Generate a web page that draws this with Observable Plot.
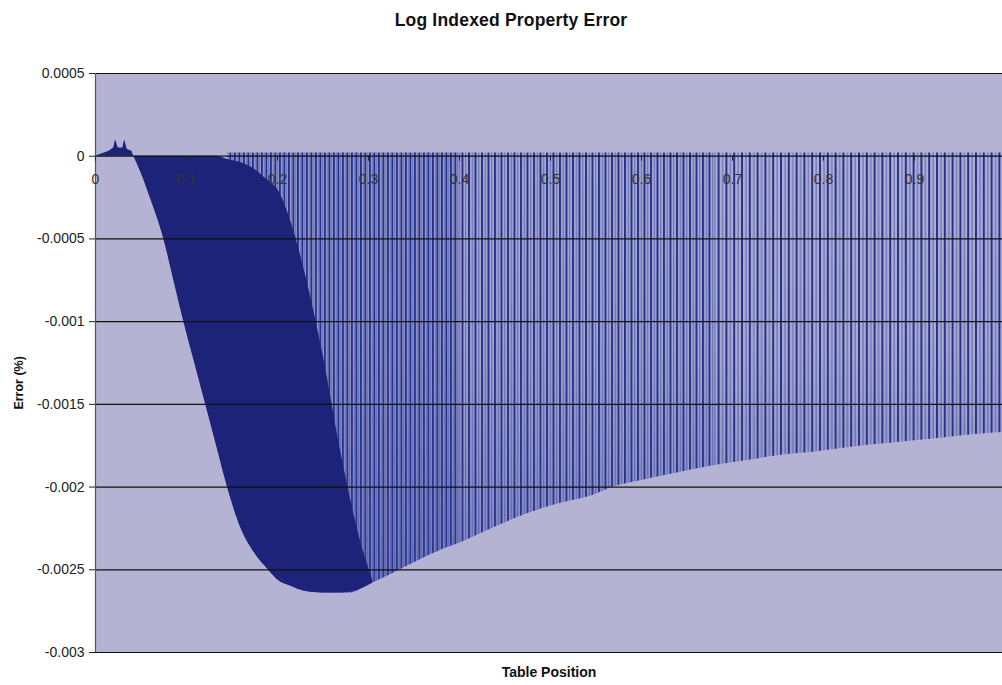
<!DOCTYPE html>
<html><head><meta charset="utf-8">
<script src="https://cdn.jsdelivr.net/npm/d3@7"></script>
<script src="https://cdn.jsdelivr.net/npm/@observablehq/plot@0.6"></script>
<style>
body{margin:0;background:#fff;font-family:"Liberation Sans",Arial,sans-serif;}
#title{height:40px;line-height:40px;padding-left:20px;width:982px;text-align:center;font-weight:bold;font-size:17.5px;letter-spacing:0.2px;color:#111;}
</style></head><body>
<div id="title">Log Indexed Property Error</div>
<div id="chart"></div>
<script>
// ---- data ----
const xTicks = [0, 0.1, 0.2, 0.3, 0.4, 0.5, 0.6, 0.7, 0.8, 0.9];
const xTickLabels = ["0", "0.1", "0.2", "0.3", "0.4", "0.5", "0.6", "0.7", "0.8", "0.9"];
const yTicks = [0.0005, 0, -0.0005, -0.001, -0.0015, -0.002, -0.0025, -0.003];
const yTickLabels = ["0.0005", "0", "-0.0005", "-0.001", "-0.0015", "-0.002", "-0.0025", "-0.003"];

// lower envelope of the oscillating error trace
const envX = [0.042,0.05,0.06,0.075,0.086,0.097,0.109,0.121,0.133,0.145,0.16,0.175,0.19,0.2,0.215,0.23,0.25,0.28,0.3,0.32,0.338,0.36,0.38,0.4,0.44,0.475,0.51,0.547,0.569,0.6,0.643,0.68,0.716,0.75,0.789,0.83,0.863,0.9,0.936,0.97,0.9967];
const envLow = [0,-0.0001,-0.00025,-0.0005,-0.00075,-0.001,-0.00125,-0.0015,-0.00175,-0.002,-0.00225,-0.0024,-0.0025,-0.00256,-0.0026,-0.00263,-0.00264,-0.00264,-0.00259,-0.00254,-0.00249,-0.00243,-0.00238,-0.00234,-0.00224,-0.00216,-0.0021,-0.00205,-0.002,-0.00196,-0.00191,-0.00187,-0.00184,-0.00181,-0.00179,-0.00176,-0.00174,-0.00172,-0.0017,-0.00168,-0.00167];
const envTop = 0.00002;

// the solid (densely overplotted) part of the trace
const denseX = [0.042,0.05,0.06,0.075,0.086,0.097,0.109,0.121,0.133,0.145,0.16,0.175,0.19,0.2,0.215,0.23,0.25,0.27,0.29,0.305];
const denseTop = [0,0,0,0,0,0,0,0,0,-0.00002,-0.00004,-0.00008,-0.00015,-0.0002,-0.0004,-0.0007,-0.0012,-0.0018,-0.0023,-0.00257];
const denseLow = [0,-0.0001,-0.00025,-0.0005,-0.00075,-0.001,-0.00125,-0.0015,-0.00175,-0.002,-0.00225,-0.0024,-0.0025,-0.00256,-0.0026,-0.00263,-0.00264,-0.00264,-0.00262,-0.00258];

// small positive wiggle at the start of the table
const startX = [0,0.005,0.01,0.015,0.02,0.022,0.025,0.03,0.032,0.035,0.04,0.042];
const startY = [0,0.00001,0.00002,0.00003,0.00005,0.0001,0.00005,0.00005,0.0001,0.00004,0.00003,0];

// ---- build tables ----
const env = envX.map((x, i) => ({x, low: envLow[i]}));
const dense = denseX.map((x, i) => ({x, top: denseTop[i], low: denseLow[i]}));
const start = startX.map((x, i) => ({x, y: startY[i]}));

const BG = "#b4b3d3", NAVY = "#1c2379";

const inRange = (a, b) => env.map(d => d.x >= a && d.x <= b);

const plot = Plot.plot({
  width: 1002, height: 645,
  marginTop: 33, marginBottom: 33, marginLeft: 95, marginRight: 0,
  x: {domain: [0, 0.9967], axis: null},
  y: {domain: [-0.003, 0.0005], axis: null},
  style: {fontFamily: "'Liberation Sans', Arial, sans-serif", fontSize: "14px", color: "#222", background: "white"},
  marks: [
    Plot.frame({fill: BG, stroke: null}),
    Plot.areaY(env, {x: "x", y1: envTop, y2: "low", filter: inRange(0.145, 0.4), fill: "url(#stripesA)", curve: "monotone-x"}),
    Plot.areaY(env, {x: "x", y1: envTop, y2: "low", filter: inRange(0.4, 0.68), fill: "url(#stripesB)", curve: "monotone-x"}),
    Plot.areaY(env, {x: "x", y1: envTop, y2: "low", filter: inRange(0.68, 1), fill: "url(#stripesC)", curve: "monotone-x"}),
    Plot.areaY(env, {x: "x", y1: envTop, y2: "low", filter: inRange(0.145, 1), fill: "url(#fade)", curve: "monotone-x"}),
    Plot.areaY(dense, {x: "x", y1: "top", y2: "low", fill: NAVY, curve: "monotone-x"}),
    Plot.areaY(start, {x: "x", y1: 0, y2: "y", fill: NAVY}),
    Plot.ruleY(yTicks, {stroke: "#111", strokeWidth: 1.2}),
    Plot.ruleX([0], {stroke: "#555", strokeWidth: 1.2}),
    Plot.ruleX(xTicks, {x: d => d, y1: 0, y2: -0.00003, stroke: "#222"}),
    Plot.text(xTicks, {x: d => d, y: 0, dy: 23, text: (d, i) => xTickLabels[i], fill: "#333", fontSize: 14}),
    Plot.axisY({ticks: yTicks, tickFormat: d => yTickLabels[yTicks.indexOf(d)], tickSize: 6, tickPadding: 5, label: null, fontSize: 14, color: "#222"}),
    Plot.text(["Error (%)"], {frameAnchor: "left", y: -0.00137, dx: -77, rotate: -90, textAnchor: "middle", fontWeight: "bold", fontSize: 12.5, fill: "#111"}),
    Plot.text(["Table Position"], {frameAnchor: "bottom", dy: 24, fontWeight: "bold", fontSize: 14, fill: "#111"})
  ]
});

// stripe patterns that stand for the closely spaced swings of the trace
const defs = d3.select(plot).insert("defs", ":first-child");
function stripes(id, w, darkW, lightX, lightW, baseOpacity) {
  const p = defs.append("pattern").attr("id", id).attr("patternUnits", "userSpaceOnUse")
    .attr("width", w).attr("height", 20);
  p.append("rect").attr("x", 0).attr("y", 0).attr("width", w).attr("height", 20).attr("fill", "#8088c8").attr("fill-opacity", baseOpacity);
  p.append("rect").attr("x", 0).attr("y", 0).attr("width", darkW).attr("height", 20).attr("fill", "#26318a");
  p.append("rect").attr("x", lightX).attr("y", 0).attr("width", lightW).attr("height", 20).attr("fill", "#5563b4").attr("fill-opacity", 0.85);
}
stripes("stripesA", 4.5, 1.8, 2.8, 1, 0.4);
stripes("stripesB", 6.5, 2, 3.7, 1.2, 0.15);
stripes("stripesC", 7.8, 2, 4.4, 1.2, 0.08);
const g = defs.append("linearGradient").attr("id", "fade").attr("x1", 0).attr("x2", 0).attr("y1", 0).attr("y2", 1);
g.append("stop").attr("offset", 0).attr("stop-color", "#3a46a0").attr("stop-opacity", 0);
g.append("stop").attr("offset", 0.45).attr("stop-color", "#3a46a0").attr("stop-opacity", 0.05);
g.append("stop").attr("offset", 1).attr("stop-color", "#3a46a0").attr("stop-opacity", 0.35);

document.getElementById("chart").appendChild(plot);
</script>
</body></html>
